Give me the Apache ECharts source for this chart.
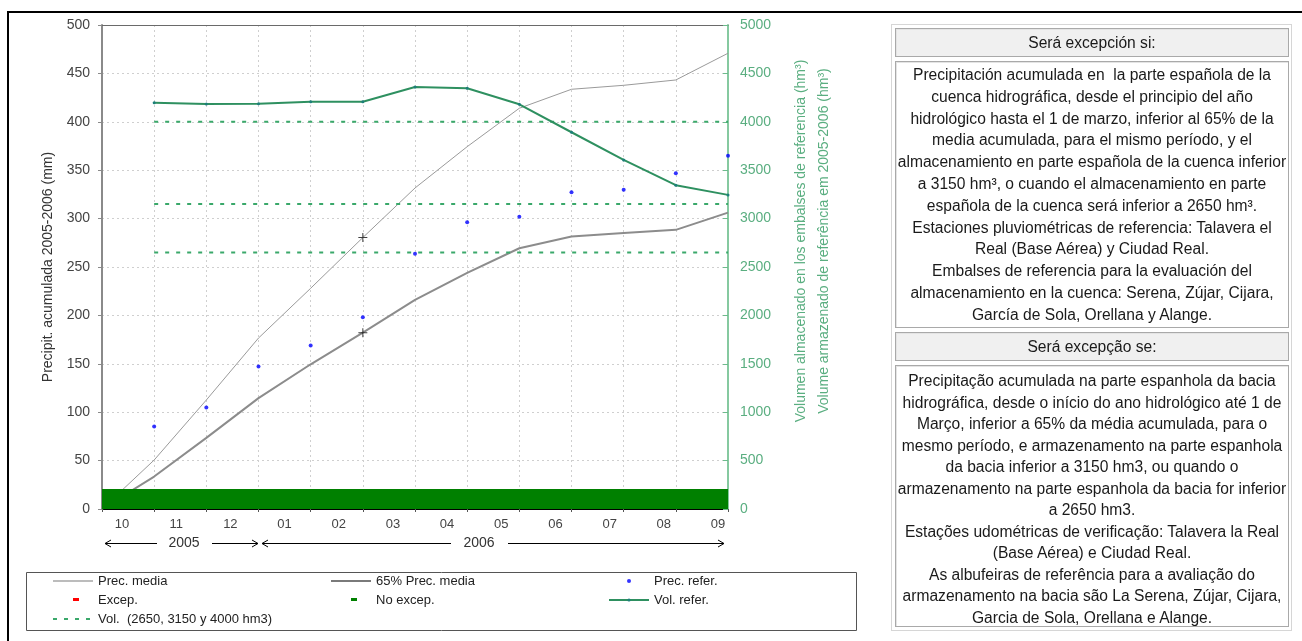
<!DOCTYPE html>
<html>
<head>
<meta charset="utf-8">
<script src="https://cdn.jsdelivr.net/npm/echarts@6/dist/echarts.min.js"></script>
<style>
  html, body { margin:0; padding:0; background:#fff; }
  body { width:1302px; height:641px; position:relative; overflow:hidden; font-family:'Liberation Sans', Arial, sans-serif; }
  #frame { position:absolute; left:7px; top:11px; width:1295px; height:630px; border-top:2px solid #000; border-left:2px solid #000; box-sizing:border-box; }
  #chart { position:absolute; left:0; top:0; width:1302px; height:641px; }
  #panel { position:absolute; left:891px; top:24px; width:401px; height:607px; border:1px solid #d6d6d6; box-sizing:border-box; }
  .hdr, .bdy { position:absolute; left:895px; width:394px; box-sizing:border-box; border:1px solid #a9a9a9; box-shadow: inset 1px 1px 0 #e4e4e4; color:#1a1a1a; text-align:center; white-space:nowrap; font-size:15.6px; }
  .hdr { background:#f0f0f0; height:29px; line-height:27px; }
  .bdy { background:#fff; line-height:21.8px; }
</style>
</head>
<body>
<div id="frame"></div>
<div id="chart"></div>
<div id="panel"></div>
<div class="hdr" style="top:28px;">Será excepción si:</div>
<div class="bdy" style="top:61px;height:267px;padding-top:2px;">Precipitación acumulada en&nbsp; la parte española de la<br>cuenca hidrográfica, desde el principio del año<br>hidrológico hasta el 1 de marzo, inferior al 65% de la<br>media acumulada, para el mismo período, y el<br>almacenamiento en parte española de la cuenca inferior<br>a 3150 hm³, o cuando el almacenamiento en parte<br>española de la cuenca será inferior a 2650 hm³.<br>Estaciones pluviométricas de referencia: Talavera el<br>Real (Base Aérea) y Ciudad Real.<br>Embalses de referencia para la evaluación del<br>almacenamiento en la cuenca: Serena, Zújar, Cijara,<br>García de Sola, Orellana y Alange.</div>
<div class="hdr" style="top:332px;">Será excepção se:</div>
<div class="bdy" style="top:365px;height:262px;padding-top:4px;line-height:21.5px;">Precipitação acumulada na parte espanhola da bacia<br>hidrográfica, desde o início do ano hidrológico até 1 de<br>Março, inferior a 65% da média acumulada, para o<br>mesmo período, e armazenamento na parte espanhola<br>da bacia inferior a 3150 hm3, ou quando o<br>armazenamento na parte espanhola da bacia for inferior<br>a 2650 hm3.<br>Estações udométricas de verificação: Talavera la Real<br>(Base Aérea) e Ciudad Real.<br>As albufeiras de referência para a avaliação do<br>armazenamento na bacia são La Serena, Zújar, Cijara,<br>Garcia de Sola, Orellana e Alange.</div>
<script>
// ---------------- data ----------------
const months = ['10','11','12','01','02','03','04','05','06','07','08','09'];
const monthPos = [0,1,2,3,4,5,6,7,8,9,10,11,12];           // month boundaries (x in months)
const precMedia = [0, 50.6, 112.6, 176.6, 228, 280.4, 331.6, 374.3, 414, 433.6, 437.7, 443.2, 470.8];
const prec65 = [0, 33.5, 73.5, 114.5, 149.5, 182.2, 216, 244, 269.4, 281.5, 285, 288.4, 306.2];
const precRefer = [85.3, 104.9, 147.2, 168.9, 198.2, 263.6, 296.3, 301.8, 327.2, 329.9, 346.9, 364.8]; // at months 1..12
const volRefer = [4198, 4184, 4187, 4208, 4208, 4360, 4346, 4181, 3892, 3606, 3345, 3245];          // at months 1..12
const volThresholds = [2650, 3150, 4000];
const volThresholdRange = [1, 12];
const marchMarkPos = 5;
const marchMarks = [280.4, 182.2];
const monthStatus = ['N','N','N','N','N','N','N','N','N','N','N','N']; // N = no excep., E = excep.
const statusLevel = 20.6;
const yLeftTicks = { min:0, max:500, interval:50 };
const yRightTicks = { min:0, max:5000, interval:500 };

// ---------------- build ----------------
const FONT = "'Liberation Sans', Arial, sans-serif";
const pair = (xs, ys) => ys.map((v, i) => [xs[i], v]);
const refX = monthPos.slice(1);
function statusData(code) {
  const d = [];
  monthStatus.forEach((s, i) => {
    if (s === code) { d.push([monthPos[i], statusLevel], [monthPos[i+1], statusLevel]); }
    else d.push(null);
  });
  return d;
}
const dashIcon = 'path://M0,0M40,4M20,0L26,0L26,3L20,3Z';
const thinIcon = 'path://M0,0M40,4M0,1.5h40v1h-40z';
const thickIcon = 'path://M0,0M40,4M0,1h40v2h-40z';
const dotsIcon = 'path://M0,0M40,4M0,1h4v2h-4zM11,1h4v2h-4zM22,1h4v2h-4zM33,1h4v2h-4z';
const plusIcon = 'path://M4,0h1v4h4v1h-4v4h-1v-4h-4v-1h4z';

const chart = echarts.init(document.getElementById('chart'), null, { renderer:'canvas' });
const grayGrid = { show:true, lineStyle:{ color:'#cfcfcf', type:[2,3], width:1 } };

const series = [
  { name:'Prec. media', type:'line', xAxisIndex:0, yAxisIndex:0, data:pair(monthPos, precMedia), symbol:'none',
    color:'#9a9a9a', lineStyle:{ width:1, color:'#9a9a9a' }, z:2 },
  { name:'65% Prec. media', type:'line', xAxisIndex:0, yAxisIndex:0, data:pair(monthPos, prec65), symbol:'none',
    color:'#8c8c8c', lineStyle:{ width:2, color:'#8c8c8c' }, z:2 },
  { name:'Prec. refer.', type:'scatter', xAxisIndex:0, yAxisIndex:0, data:pair(refX, precRefer), symbol:'circle', symbolSize:4,
    itemStyle:{ color:'#0000ff' }, z:4 },
  { name:'Excep.', type:'line', xAxisIndex:0, yAxisIndex:0, data:statusData('E'), symbol:'none', connectNulls:false,
    color:'#ff0000', lineStyle:{ width:0 }, areaStyle:{ color:'#ff0000', opacity:1 }, z:3 },
  { name:'No excep.', type:'line', xAxisIndex:0, yAxisIndex:0, data:statusData('N'), symbol:'none', connectNulls:false,
    color:'#008000', lineStyle:{ width:0 }, areaStyle:{ color:'#008000', opacity:1 }, z:3 },
  { name:'Vol. refer.', type:'line', xAxisIndex:0, yAxisIndex:1, data:pair(refX, volRefer), symbol:'circle', symbolSize:3, showSymbol:true,
    color:'#2e9060', lineStyle:{ width:2, color:'#2e9060' }, itemStyle:{ color:'#1d7f7a' }, z:3 },
  ...volThresholds.map(v => ({
    name:'Vol.  (2650, 3150 y 4000 hm3)', type:'line', xAxisIndex:0, yAxisIndex:1,
    data:[[volThresholdRange[0], v], [volThresholdRange[1], v]], symbol:'none',
    color:'#3aa86a', lineStyle:{ width:2, type:[4,7], color:'#3aa86a' }, z:2
  })),
  { name:'marks', type:'scatter', xAxisIndex:0, yAxisIndex:0, data:marchMarks.map(v => [marchMarkPos, v]),
    symbol:plusIcon, symbolSize:9, itemStyle:{ color:'#111' }, z:5 }
];

const legendBase = { orient:'vertical', itemWidth:40, itemHeight:4, itemGap:5, padding:0, selectedMode:false,
  textStyle:{ fontFamily:FONT, fontSize:13, color:'#222', lineHeight:14 } };

const option = {
  animation:false,
  textStyle:{ fontFamily:FONT },
  grid:[
    { left:102, top:25, width:626, height:484 },
    { left:122, top:25, width:596, height:484 }
  ],
  xAxis:[
    { gridIndex:0, type:'value', min:0, max:12, interval:1, position:'bottom',
      axisLine:{ show:true, onZero:false, lineStyle:{ color:'#000', width:1 } },
      axisTick:{ show:true, length:3, lineStyle:{ color:'#555' } },
      axisLabel:{ show:false }, splitLine:grayGrid },
    { gridIndex:0, type:'value', min:0, max:12, interval:1, position:'top',
      axisLine:{ show:true, onZero:false, lineStyle:{ color:'#6a6a6a', width:1 } },
      axisTick:{ show:false }, axisLabel:{ show:false }, splitLine:{ show:false } },
    { gridIndex:1, type:'category', boundaryGap:false, data:months, position:'bottom',
      axisLine:{ show:false }, axisTick:{ show:false },
      axisLabel:{ show:true, color:'#444', fontSize:13, margin:9, fontFamily:FONT }, splitLine:{ show:false } }
  ],
  yAxis:[
    { gridIndex:0, type:'value', position:'left', min:yLeftTicks.min, max:yLeftTicks.max, interval:yLeftTicks.interval,
      axisLine:{ show:true, onZero:false, lineStyle:{ color:'#8a8a8a', width:2 } },
      axisTick:{ show:true, length:4, lineStyle:{ color:'#8a8a8a' } },
      axisLabel:{ color:'#444', fontSize:14, margin:12, fontFamily:FONT },
      splitLine:grayGrid,
      name:'Precipit. acumulada 2005-2006 (mm)', nameLocation:'middle', nameGap:47, nameRotate:90,
      nameTextStyle:{ color:'#333', fontSize:14, fontFamily:FONT } },
    { gridIndex:0, type:'value', position:'right', min:yRightTicks.min, max:yRightTicks.max, interval:yRightTicks.interval,
      axisLine:{ show:true, onZero:false, lineStyle:{ color:'#86c9a0', width:2 } },
      axisTick:{ show:true, inside:true, length:5, lineStyle:{ color:'#6dbb8c' } },
      axisLabel:{ color:'#5aae80', fontSize:14, margin:12, fontFamily:FONT, formatter:(v) => String(v) },
      splitLine:{ show:false },
      name:'Volumen almacenado en los embalses de referencia (hm³)\nVolume armazenado de referência em 2005-2006 (hm³)',
      nameLocation:'middle', nameGap:62, nameRotate:90,
      nameTextStyle:{ color:'#5aae80', fontSize:14, lineHeight:23, fontFamily:FONT, padding:[0,0,0,52] } },
    { gridIndex:1, type:'value', min:0, max:1, show:false }
  ],
  legend:[
    Object.assign({}, legendBase, { left:53, top:574, data:[
      { name:'Prec. media', icon:thinIcon, itemStyle:{ color:'#7a7a7a' } }, { name:'Excep.', icon:dashIcon }, { name:'Vol.  (2650, 3150 y 4000 hm3)', icon:dotsIcon } ] }),
    Object.assign({}, legendBase, { left:331, top:574, data:[
      { name:'65% Prec. media', icon:thickIcon, itemStyle:{ color:'#7a7a7a' } }, { name:'No excep.', icon:dashIcon } ] }),
    Object.assign({}, legendBase, { left:608, top:574, data:[
      { name:'Prec. refer.' }, { name:'Vol. refer.' } ] })
  ],
  graphic:[
    { type:'rect', shape:{ x:26.5, y:572.5, width:830, height:58 }, style:{ fill:'none', stroke:'#555', lineWidth:1 }, silent:true },
    // year annotation: 2005
    { type:'line', shape:{ x1:105, y1:543.5, x2:157, y2:543.5 }, style:{ stroke:'#000', lineWidth:1 } },
    { type:'polyline', shape:{ points:[[111,540],[105,543.5],[111,547]] }, style:{ stroke:'#000', fill:null, lineWidth:1 } },
    { type:'line', shape:{ x1:212, y1:543.5, x2:258, y2:543.5 }, style:{ stroke:'#000', lineWidth:1 } },
    { type:'polyline', shape:{ points:[[252,540],[258,543.5],[252,547]] }, style:{ stroke:'#000', fill:null, lineWidth:1 } },
    { type:'text', x:184, y:543.5, style:{ text:'2005', fill:'#333', fontSize:14, fontFamily:FONT, align:'center', verticalAlign:'middle' } },
    // year annotation: 2006
    { type:'line', shape:{ x1:262, y1:543.5, x2:451, y2:543.5 }, style:{ stroke:'#000', lineWidth:1 } },
    { type:'polyline', shape:{ points:[[268,540],[262,543.5],[268,547]] }, style:{ stroke:'#000', fill:null, lineWidth:1 } },
    { type:'line', shape:{ x1:508, y1:543.5, x2:724, y2:543.5 }, style:{ stroke:'#000', lineWidth:1 } },
    { type:'polyline', shape:{ points:[[718,540],[724,543.5],[718,547]] }, style:{ stroke:'#000', fill:null, lineWidth:1 } },
    { type:'text', x:479, y:543.5, style:{ text:'2006', fill:'#333', fontSize:14, fontFamily:FONT, align:'center', verticalAlign:'middle' } }
  ],
  series: series
};
chart.setOption(option);
</script>
</body>
</html>
